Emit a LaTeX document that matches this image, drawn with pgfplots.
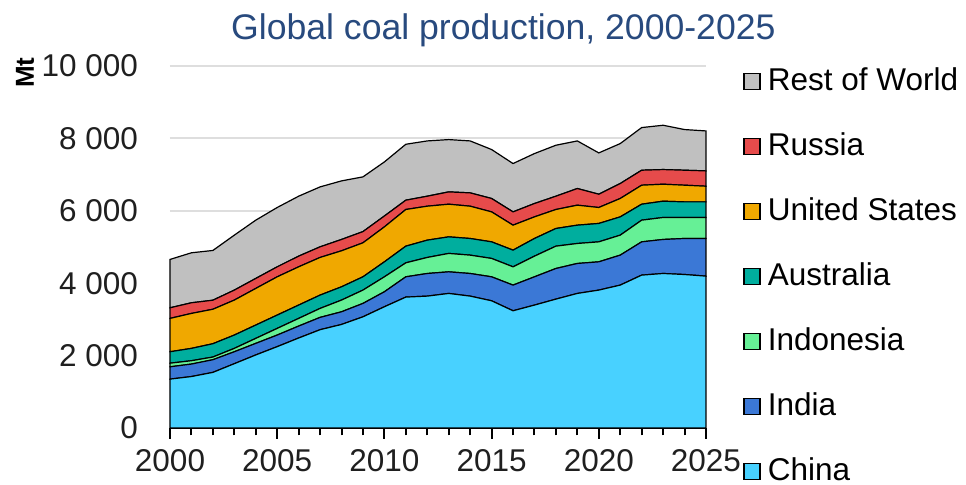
\documentclass[border=0pt]{standalone}
\usepackage{pgfplots}
\pgfplotsset{compat=1.18}
\usepackage{pgfplotstable}
\usepackage{fontspec}
\setmainfont{Liberation Sans}

\definecolor{cChina}{HTML}{48D1FF}
\definecolor{cIndia}{HTML}{3B78D6}
\definecolor{cIndonesia}{HTML}{66F096}
\definecolor{cAustralia}{HTML}{00AE9E}
\definecolor{cUS}{HTML}{F0A800}
\definecolor{cRussia}{HTML}{E64B4B}
\definecolor{cRoW}{HTML}{C0C0C0}
\definecolor{titleblue}{HTML}{284A7E}

\pgfplotstableread{
year China India Indonesia Australia US Russia RoW
2000 1350 340 100 316 921 293 1336
2001 1421 345 92 341 966 294 1381
2002 1536 350 74 368 952 250 1374
2003 1776 330 93 368 966 276 1518
2004 2017 320 138 368 1012 276 1610
2005 2247 320 184 368 1057 276 1639
2006 2485 330 212 368 1057 295 1656
2007 2715 340 248 368 1040 293 1656
2008 2860 350 323 367 995 313 1618
2009 3071 370 368 367 939 310 1512
2010 3349 414 413 414 966 300 1494
2011 3616 560 386 461 1013 257 1545
2012 3643 625 443 478 938 276 1527
2013 3717 597 508 458 902 340 1445
2014 3643 625 507 460 892 368 1435
2015 3514 662 508 458 828 370 1352
2016 3238 709 505 461 690 367 1335
2017 3395 781 571 488 597 369 1380
2018 3560 846 617 488 525 367 1408
2019 3717 828 552 506 552 460 1315
2020 3809 781 552 508 441 367 1141
2021 3947 828 552 505 508 413 1104
2022 4223 919 599 441 525 414 1178
2023 4268 940 607 450 469 405 1224
2024 4240 995 580 431 461 414 1123
2025 4195 1040 580 431 433 423 1104
}\coal

\begin{document}
\begin{tikzpicture}
\useasboundingbox (-85pt,-28.5pt) rectangle (398pt,214pt);
\begin{axis}[
  at={(0,0)}, anchor=south west,
  scale only axis, width=268pt, height=181pt,
  xmin=2000, xmax=2025, ymin=0, ymax=10000,
  clip=false,
  stack plots=y,
  scaled y ticks=false, scaled x ticks=false,
  axis x line=bottom, axis y line=left,
  axis line style={-, black, line width=1pt},
  y axis line style={draw=none},
  ytick style={draw=none},
  xtick align=outside,
  xtick={2000,2005,...,2025},
  xticklabels={2000,2005,2010,2015,2020,2025},
  minor xtick={2000,2001,...,2025},
  major tick length=5.5pt, minor tick length=3.75pt,
  xtick style={black, line width=1pt},
  minor tick style={black, line width=1pt},
  ytick={0,2000,...,10000},
  yticklabels={0,2 000,4 000,6 000,8 000,10 000},
  ymajorgrids,
  grid style={draw=black!13, line width=1pt},
  tick label style={font=\fontsize{15.75}{18}\selectfont, text=black!88},
  yticklabel style={xshift=-9.75pt},
  xticklabel style={yshift=-1.75pt},
  title={Global coal production, 2000-2025},
  every axis title/.style={at={(axis description cs:0.622,1)}, anchor=base, yshift=13pt, font=\fontsize{17.8}{20}\selectfont, text=titleblue},
  ylabel={Mt},
  every axis y label/.style={at={(axis description cs:-0.2705,0.982)}, rotate=90, anchor=center, font=\bfseries\fontsize{13}{15}\selectfont},
  legend cell align=left,
  reverse legend,
  legend image code/.code={\draw[#1, line width=0.75pt] (0pt,-4pt) rectangle (8pt,4pt);},
  legend style={at={(axis description cs:1.069,1)}, anchor=north west, draw=none, fill=none, inner sep=0pt, row sep=17.5pt, column sep=3.5pt, font=\fontsize{15.75}{18}\selectfont, nodes={inner sep=0pt, text height=12pt, text depth=3pt}},
]
\addplot[fill=cChina, draw=black, line width=0.6pt] table[x=year,y=China]{\coal} \closedcycle;
\addlegendentry{China}
\addplot[fill=cIndia, draw=black, line width=0.6pt] table[x=year,y=India]{\coal} \closedcycle;
\addlegendentry{India}
\addplot[fill=cIndonesia, draw=black, line width=0.6pt] table[x=year,y=Indonesia]{\coal} \closedcycle;
\addlegendentry{Indonesia}
\addplot[fill=cAustralia, draw=black, line width=0.6pt] table[x=year,y=Australia]{\coal} \closedcycle;
\addlegendentry{Australia}
\addplot[fill=cUS, draw=black, line width=0.6pt] table[x=year,y=US]{\coal} \closedcycle;
\addlegendentry{United States}
\addplot[fill=cRussia, draw=black, line width=0.6pt] table[x=year,y=Russia]{\coal} \closedcycle;
\addlegendentry{Russia}
\addplot[fill=cRoW, draw=black, line width=0.6pt] table[x=year,y=RoW]{\coal} \closedcycle;
\addlegendentry{Rest of World}
\end{axis}
\end{tikzpicture}
\end{document}
